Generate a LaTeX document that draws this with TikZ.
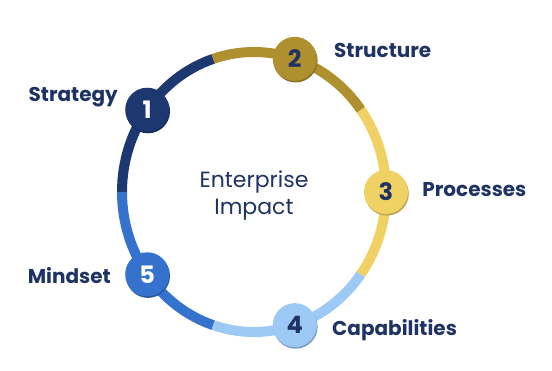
\documentclass[tikz,border=0pt]{standalone}
\usepackage{fontspec}
\setmainfont{Poppins}
\usepackage{tikz}
\usetikzlibrary{positioning}

\definecolor{navyring}{HTML}{1D3770}
\definecolor{midring}{HTML}{3572CE}
\definecolor{lightring}{HTML}{9DC9F6}
\definecolor{yellowring}{HTML}{F0D264}
\definecolor{goldring}{HTML}{AF902F}
\definecolor{textnavy}{HTML}{1E3264}

\begin{document}
\begin{tikzpicture}[x=1pt, y=1pt,
  ring/.style={line width=10pt},
  num/.style 2 args={circle, minimum size=44pt, inner sep=0pt, fill=#1, text=#2,
    font=\bfseries\fontsize{24}{24}\selectfont,
    preaction={fill=#1!78!black, transform canvas={xshift=0.8pt, yshift=-1.6pt}}},
  lbl/.style={inner sep=0pt, text height=14pt, text depth=0pt, text=textnavy,
    font=\bfseries\fontsize{20}{20}\selectfont}]
  \useasboundingbox (0,0) rectangle (552,370);
  \coordinate (c) at (254,178);
  \foreach \a/\col in {108/navyring, 180/midring, 252/lightring, 324/yellowring, 396/goldring}
    \draw[ring, \col] ([shift={(\a:132pt and 140pt)}]c)
      arc[start angle=\a, delta angle=72, x radius=132pt, y radius=140pt];

  \node[num={navyring}{white}] (n1) at ([shift={(144:132pt and 140pt)}]c) {1};
  \node[num={goldring}{textnavy}] (n2) at ([shift={(72:132pt and 140pt)}]c) {2};
  \node[num={yellowring}{textnavy}] (n3) at ([shift={(0:132pt and 140pt)}]c) {3};
  \node[num={lightring}{textnavy}] (n4) at ([shift={(-72:132pt and 140pt)}]c) {4};
  \node[num={midring}{white}] (n5) at ([shift={(216:132pt and 140pt)}]c) {5};

  \node[lbl, left=7pt of n1, yshift=15pt] (t1) {Strategy};
  \node[lbl, right=17pt of n2, yshift=8pt] (t2) {Structure};
  \node[lbl, right=14pt of n3, yshift=2pt] (t3) {Processes};
  \node[lbl, right=15pt of n4, yshift=-3pt] (t4) {Capabilities};
  \node[lbl, left=14pt of n5, yshift=-2pt] (t5) {Mindset};

  \node[align=center, text=textnavy, font=\fontsize{22}{27}\selectfont] (title)
    at ([yshift=-3.5pt]c) {Enterprise\\Impact};
\end{tikzpicture}
\end{document}
